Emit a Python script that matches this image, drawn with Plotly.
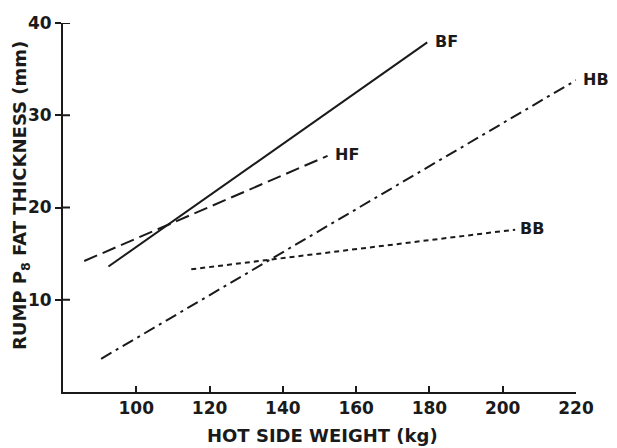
import plotly.graph_objects as go

# Data (hot side weight kg, P8 fat thickness mm)
bf_x = [92.4, 179.4]
bf_y = [13.6, 37.9]
hf_x = [85.8, 152.2]
hf_y = [14.2, 25.6]
hb_x = [90.4, 220.0]
hb_y = [3.6, 33.8]
bb_x = [115.0, 203.4]
bb_y = [13.3, 17.6]

x_ticks = [100, 120, 140, 160, 180, 200, 220]
y_ticks = [10, 20, 30, 40]

x_title = "HOT SIDE WEIGHT (kg)"
y_title = "RUMP P<sub>8</sub> FAT THICKNESS (mm)"

ink = "#1a1a1a"
wide_font = "DejaVu Sans, Verdana, sans-serif"

series = [
    ("BF", bf_x, bf_y, "solid", 6),
    ("HF", hf_x, hf_y, "14px,6px", 5),
    ("HB", hb_x, hb_y, "12px,5px,3px,5px", 5),
    ("BB", bb_x, bb_y, "5px,4px", 3),
]

fig = go.Figure()
for name, xs, ys, dash, shift in series:
    fig.add_trace(go.Scatter(
        x=xs, y=ys, mode="lines", name=name,
        line=dict(color=ink, width=2, dash=dash),
        showlegend=False, hoverinfo="skip",
    ))
    fig.add_annotation(
        x=xs[-1], y=ys[-1], text=name, showarrow=False,
        xanchor="left", yanchor="middle", xshift=shift, yshift=1,
        font=dict(family=wide_font, size=16, color=ink, weight="bold"),
    )

# y ticks cross the axis line: add the inner half of each tick
for v in y_ticks:
    fig.add_shape(
        type="line", xref="paper", yref="y", xsizemode="pixel", xanchor=0,
        x0=0, x1=7, y0=v, y1=v, line=dict(color=ink, width=2),
    )

# axis titles as annotations for exact placement
fig.add_annotation(
    x=0.505, y=0, xref="paper", yref="paper", text=x_title, showarrow=False,
    xanchor="center", yanchor="middle", yshift=-43,
    font=dict(family=wide_font, size=18, color=ink, weight="bold"),
)
fig.add_annotation(
    x=0, y=0.531, xref="paper", yref="paper", text=y_title, showarrow=False,
    xanchor="center", yanchor="middle", xshift=-42, textangle=-90,
    font=dict(family=wide_font, size=18, color=ink, weight="bold"),
)

# the page body has an 8px default margin, so margins are offset by 8px
fig.update_layout(
    width=617, height=448,
    margin=dict(l=55, r=49, t=15, b=64),
    paper_bgcolor="white", plot_bgcolor="white",
    font=dict(family=wide_font, size=17, color=ink, weight="bold"),
    xaxis=dict(
        range=[80, 220], tickvals=x_ticks, ticktext=[str(v) for v in x_ticks],
        ticks="inside", ticklen=6, tickwidth=2, tickcolor=ink,
        showline=True, linecolor=ink, linewidth=2,
        showgrid=False, zeroline=False, automargin=False,
        ticklabelstandoff=0,
        tickfont=dict(family=wide_font, size=17, weight="bold"),
    ),
    yaxis=dict(
        range=[0, 40], tickvals=y_ticks, ticktext=[str(v) for v in y_ticks],
        ticks="outside", ticklen=6, tickwidth=2, tickcolor=ink,
        showline=True, linecolor=ink, linewidth=2,
        showgrid=False, zeroline=False, automargin=False,
        tickfont=dict(family=wide_font, size=17, weight="bold"),
    ),
)

fig.write_html("out.html")
